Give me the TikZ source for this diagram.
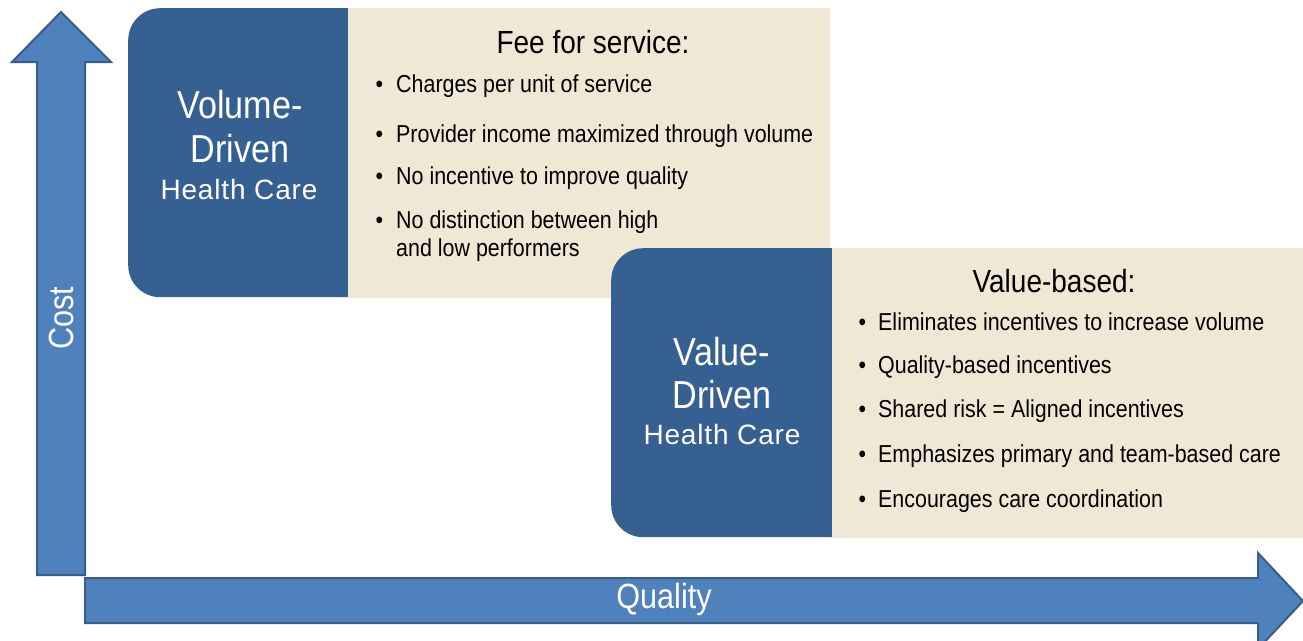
\documentclass[tikz,border=0pt]{standalone}
\usepackage{fontspec}
\setmainfont{Liberation Sans}[FakeStretch=0.875]
\newfontfamily\widesf{Liberation Sans}[LetterSpace=3]
\usepackage{tikz}
\usetikzlibrary{positioning,calc}
\definecolor{boxblue}{HTML}{376092}
\definecolor{axisblue}{HTML}{4F81BD}
\definecolor{axisedge}{HTML}{385D8A}
\definecolor{panel}{HTML}{F0E8D4}

\begin{document}
\begin{tikzpicture}[x=1pt,y=-1pt,
    axis/.style={fill=axisblue, draw=axisedge, line width=2pt, line join=miter},
    axislabel/.style={text=white, inner sep=0pt, anchor=base, font=\fontsize{35}{40}\selectfont},
    hcbox/.style={fill=boxblue, rounded corners=32pt, inner sep=0pt, anchor=north west},
    panelbox/.style={fill=panel, inner sep=0pt, anchor=north west},
    bigline/.style={text=white, inner sep=0pt, anchor=base, font=\fontsize{39}{44}\selectfont},
    smallline/.style={text=white, inner sep=0pt, anchor=base, font=\widesf\fontsize{28}{32}\selectfont},
    heading/.style={inner sep=0pt, anchor=base, font=\fontsize{32}{36}\selectfont},
    item/.style={inner sep=0pt, anchor=base west, font=\fontsize{24.5}{28}\selectfont},
  ]
  \useasboundingbox (0,0) rectangle (1303,640);

  % axes
  \draw[axis] (37,575) -- (37,62) -- (12,62) -- (61,12) -- (111,62) -- (85,62) -- (85,575) -- cycle;
  \draw[axis] (85,578) -- (1258,578) -- (1258,553) -- (1303,601) -- (1258,649) -- (1258,623) -- (85,623) -- cycle;
  \node[axislabel, rotate=90] (cost) at (73,318) {Cost};
  \node[axislabel] (quality) at (664,608) {Quality};

  % volume-driven block
  \node[hcbox, minimum width=260pt, minimum height=289pt] (volbox) at (128,8) {};
  \node[panelbox, minimum width=482pt, minimum height=290pt] (feepanel) at (348,7.5) {};
  \node[bigline] (vol1) at (240,118) {Volume-};
  \node[bigline] (vol2) at (240,162) {Driven};
  \node[smallline] (vol3) at (239,199) {Health Care};

  \node[heading] (fee) at (593,53) {Fee for service:};
  \foreach \y/\t [count=\i] in {92/Charges per unit of service,
      142/Provider income maximized through volume,
      184/No incentive to improve quality,
      228/No distinction between high}
    \node[item] (fee\i) at (396,\y) {\llap{\textbullet\hspace{13pt}}\t};
  \node[item] (fee5) at (396,256) {and low performers};

  % value-driven block
  \node[hcbox, minimum width=260pt, minimum height=289pt] (valbox) at (611,248) {};
  \node[panelbox, minimum width=471pt, minimum height=290pt] (valpanel) at (832,247.5) {};
  \node[bigline] (val1) at (722,365) {Value-};
  \node[bigline] (val2) at (722,408) {Driven};
  \node[smallline] (val3) at (722,444) {Health Care};

  \node[heading] (valhead) at (1054,292) {Value-based:};
  \foreach \y/\t [count=\i] in {330/Eliminates incentives to increase volume,
      373/Quality-based incentives,
      417/Shared risk = Aligned incentives,
      462/Emphasizes primary and team-based care,
      507/Encourages care coordination}
    \node[item] (val\i) at (878,\y) {\llap{\textbullet\hspace{12pt}}\t};
\end{tikzpicture}
\end{document}
